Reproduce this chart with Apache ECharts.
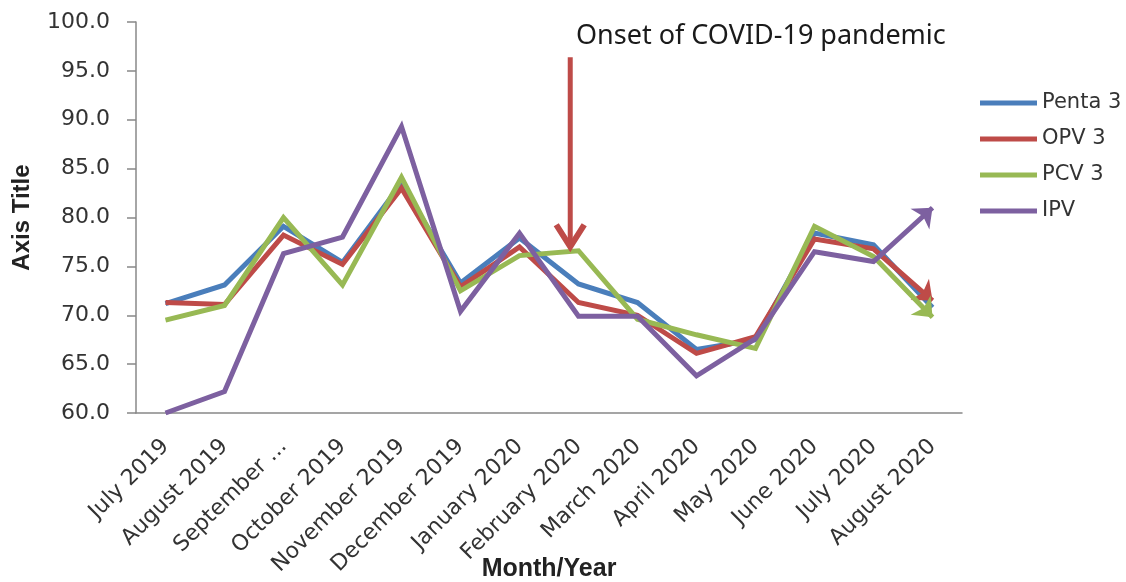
<!DOCTYPE html>
<html>
<head>
<meta charset="utf-8">
<script src="https://cdn.jsdelivr.net/npm/echarts@6/dist/echarts.min.js"></script>
<style>
html,body{margin:0;padding:0;background:#fff;}
#main{width:1126px;height:582px;}
</style>
</head>
<body>
<div id="main"></div>
<script>
const categories = ['July 2019','August 2019','September 2019','October 2019','November 2019','December 2019','January 2020','February 2020','March 2020','April 2020','May 2020','June 2020','July 2020','August 2020'];
const penta3 = [71.2, 73.1, 79.1, 75.4, 83.5, 73.3, 77.9, 73.2, 71.3, 66.5, 67.5, 78.4, 77.2, 70.8];
const opv3   = [71.3, 71.1, 78.2, 75.2, 83.0, 72.9, 77.0, 71.3, 70.0, 66.1, 67.8, 77.8, 76.8, 71.5];
const pcv3   = [69.5, 71.0, 80.0, 73.1, 84.1, 72.5, 76.1, 76.6, 69.6, 68.0, 66.6, 79.1, 76.0, 69.8];
const ipv    = [60.0, 62.2, 76.3, 78.0, 89.3, 70.4, 78.4, 69.9, 69.9, 63.8, 67.6, 76.5, 75.5, 81.0];
const seriesNames = ['Penta 3', 'OPV 3', 'PCV 3', 'IPV'];
const yTicks = [60, 65, 70, 75, 80, 85, 90, 95, 100];
const annotationText = 'Onset of COVID-19 pandemic';
// annotation arrow: between January 2020 and February 2020, from value 96.4 down to 76.7
const covidArrowFrom = 'January 2020';
const covidArrowTo = 'February 2020';
const covidArrowFraction = 0.86;
const covidArrowValues = [96.4, 76.7];

const colors = ['#4A7EBB', '#BE4B48', '#98B954', '#7D60A0'];
const withArrow = [false, true, true, true];
const allData = [penta3, opv3, pcv3, ipv];

const chart = echarts.init(document.getElementById('main'), null, {renderer: 'canvas'});

function baseSeries(i, data) {
  return {
    name: seriesNames[i],
    type: 'line',
    data: data,
    symbol: 'none',
    showSymbol: true,
    z: 2 + i,
    lineStyle: {color: colors[i], width: 5, join: 'miter'},
    itemStyle: {color: colors[i], borderWidth: 0},
    emphasis: {disabled: true}
  };
}

const option = {
  animation: false,
  color: colors,
  grid: {left: 136, right: 164, top: 22, bottom: 169, containLabel: false, outerBoundsMode: 'none'},
  legend: {
    orient: 'vertical',
    left: 975,
    top: 87,
    itemWidth: 57,
    itemHeight: 5,
    itemGap: 14,
    icon: 'rect',
    textStyle: {fontFamily: 'DejaVu Sans', fontSize: 21, color: '#333', lineHeight: 22},
    data: seriesNames
  },
  xAxis: {
    type: 'category',
    data: categories,
    boundaryGap: true,
    axisLine: {lineStyle: {color: '#888', width: 1.5}},
    axisTick: {show: false},
    axisLabel: {
      rotate: 45,
      interval: 0,
      margin: 30,
      fontFamily: 'DejaVu Sans',
      fontSize: 22,
      color: '#333',
      formatter: function (v) { return v.length > 13 ? v.slice(0, 9) + ' ...' : v; }
    },
    name: 'Month/Year',
    nameLocation: 'middle',
    nameGap: 156,
    nameMoveOverlap: false,
    nameTextStyle: {fontFamily: 'Liberation Sans', fontWeight: 'bold', fontSize: 25, color: '#222', verticalAlign: 'middle'}
  },
  yAxis: {
    type: 'value',
    min: yTicks[0],
    max: yTicks[yTicks.length - 1],
    interval: 5,
    splitLine: {show: false},
    axisLine: {show: true, lineStyle: {color: '#888', width: 1.5}},
    axisTick: {show: true, length: 9, lineStyle: {color: '#888', width: 1.5}},
    axisLabel: {
      margin: 26,
      fontFamily: 'DejaVu Sans',
      fontSize: 22,
      color: '#333',
      formatter: function (v) { return v.toFixed(1); }
    },
    name: 'Axis Title',
    nameLocation: 'middle',
    nameGap: 114,
    nameRotate: 90,
    nameMoveOverlap: false,
    nameTextStyle: {fontFamily: 'Liberation Sans', fontWeight: 'bold', fontSize: 24, color: '#222', verticalAlign: 'middle'}
  },
  series: allData.map((d, i) => baseSeries(i, d.slice()))
};

chart.setOption(option);

function endArrow(vals) {
  const n = vals.length;
  const p1 = chart.convertToPixel({gridIndex: 0}, [n - 2, vals[n - 2]]);
  const p2 = chart.convertToPixel({gridIndex: 0}, [n - 1, vals[n - 1]]);
  const dx = p2[0] - p1[0], dy = p2[1] - p1[1];
  const len = Math.hypot(dx, dy);
  const ux = dx / len, uy = dy / len;
  return {
    value: vals[n - 1],
    symbol: 'arrow',
    symbolSize: [21, 17],
    symbolRotate: Math.atan2(-ux, -uy) * 180 / Math.PI
  };
}

const newSeries = allData.map((d, i) => {
  const data = d.slice();
  if (withArrow[i]) {
    data[data.length - 1] = endArrow(d);
  }
  return {name: seriesNames[i], data: data};
});

// annotation arrow pixel positions via axes
const xa = chart.convertToPixel({xAxisIndex: 0}, covidArrowFrom);
const xb = chart.convertToPixel({xAxisIndex: 0}, covidArrowTo);
const ax = xa + (xb - xa) * covidArrowFraction;
const yTop = chart.convertToPixel({yAxisIndex: 0}, covidArrowValues[0]);
const yTip = chart.convertToPixel({yAxisIndex: 0}, covidArrowValues[1]);
const arrowColor = '#BE4B48';

chart.setOption({
  series: newSeries,
  graphic: [
    {
      type: 'line',
      z: 100,
      shape: {x1: ax, y1: yTop, x2: ax, y2: yTip - 4},
      style: {stroke: arrowColor, lineWidth: 5}
    },
    {
      type: 'polyline',
      z: 100,
      shape: {points: [[ax - 14, yTip - 25], [ax, yTip - 3], [ax + 14, yTip - 25]]},
      style: {stroke: arrowColor, lineWidth: 6, fill: null, lineJoin: 'miter'}
    },
    {
      type: 'text',
      z: 100,
      x: 576,
      y: 36,
      style: {
        text: annotationText,
        fontFamily: 'Noto Sans',
        fontSize: 27,
        fill: '#1a1a1a',
        verticalAlign: 'middle',
        align: 'left'
      }
    }
  ]
});
</script>
</body>
</html>
